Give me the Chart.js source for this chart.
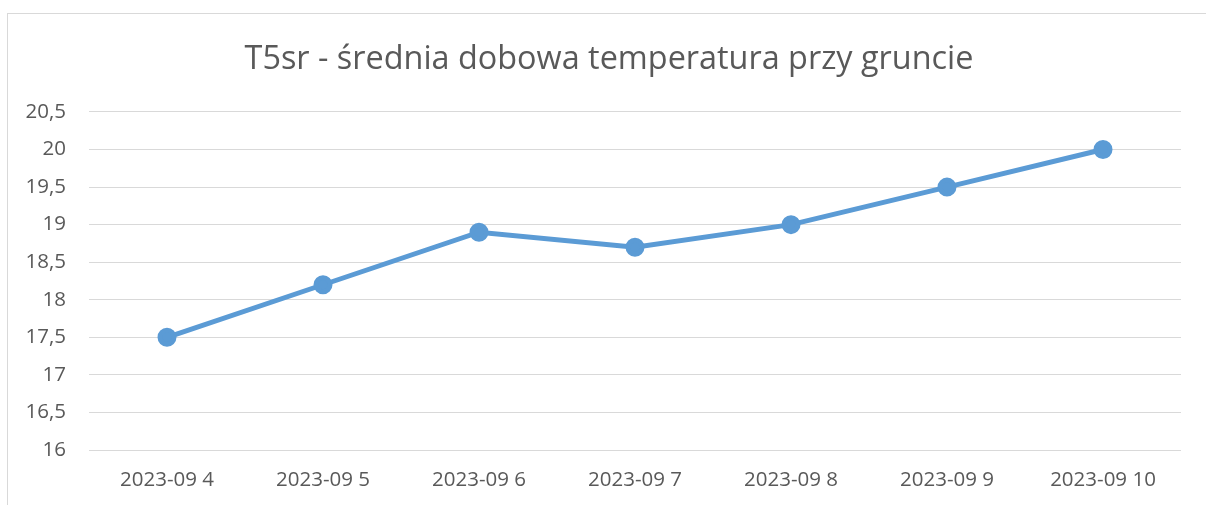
<!DOCTYPE html>
<html>
<head>
<meta charset="utf-8">
<script src="https://cdn.jsdelivr.net/npm/chart.js@4"></script>
<style>
  html, body { margin: 0; padding: 0; background: #fff; }
  #wrap { position: absolute; left: 0; top: 0; width: 1206px; height: 505px; }
  #frame { position: absolute; left: 7px; top: 13px; width: 1220px; height: 520px; border: 1px solid #D9D9D9; box-sizing: border-box; }
  canvas { position: absolute; left: 0; top: 0; }
</style>
</head>
<body>
<div id="wrap">
  <div id="frame"></div>
  <canvas id="c" width="1206" height="505"></canvas>
</div>
<script>
const titleText = "T5sr - średnia dobowa temperatura przy gruncie";
const categories = ["2023-09 4", "2023-09 5", "2023-09 6", "2023-09 7", "2023-09 8", "2023-09 9", "2023-09 10"];
const values = [17.5, 18.2, 18.9, 18.7, 19.0, 19.5, 20.0];
const yMin = 16, yMax = 20.5, yStep = 0.5;

const textColor = "#595959";
const fontFamily = "'Open Sans', sans-serif";

const titleShift = {
  id: "titleShift",
  afterLayout(chart) {
    if (chart.titleBlock) {
      chart.titleBlock.left = 37;
      chart.titleBlock.right = 1181;
    }
  }
};

new Chart(document.getElementById("c"), {
  type: "line",
  data: {
    labels: categories,
    datasets: [{
      data: values,
      borderColor: "#5B9BD5",
      backgroundColor: "#5B9BD5",
      borderWidth: 5,
      pointRadius: 7,
      pointHoverRadius: 7,
      pointBackgroundColor: "#5B9BD5",
      pointBorderColor: "#5B9BD5",
      tension: 0,
      fill: false
    }]
  },
  plugins: [titleShift],
  options: {
    responsive: false,
    animation: false,
    events: [],
    layout: { padding: { left: 0, right: 25, top: 0, bottom: 0 } },
    plugins: {
      legend: { display: false },
      tooltip: { enabled: false },
      title: {
        display: true,
        text: titleText,
        color: textColor,
        font: { family: fontFamily, size: 32.4, weight: "normal" },
        padding: { top: 40.5, bottom: 32.6 }
      }
    },
    scales: {
      x: {
        offset: true,
        grid: { display: false, drawTicks: false },
        border: { display: false },
        ticks: { color: textColor, font: { family: fontFamily, size: 20.5 }, padding: 18, maxRotation: 0 },
        afterFit: (s) => { s.height = 55; }
      },
      y: {
        min: yMin,
        max: yMax,
        grid: { color: "#D9D9D9", lineWidth: 1, drawTicks: false },
        border: { display: false },
        ticks: {
          stepSize: yStep,
          color: textColor,
          font: { family: fontFamily, size: 20.5 },
          padding: 23,
          callback: (v) => String(v).replace(".", ",")
        },
        afterFit: (s) => { s.width = 89; }
      }
    }
  }
});
</script>
</body>
</html>
